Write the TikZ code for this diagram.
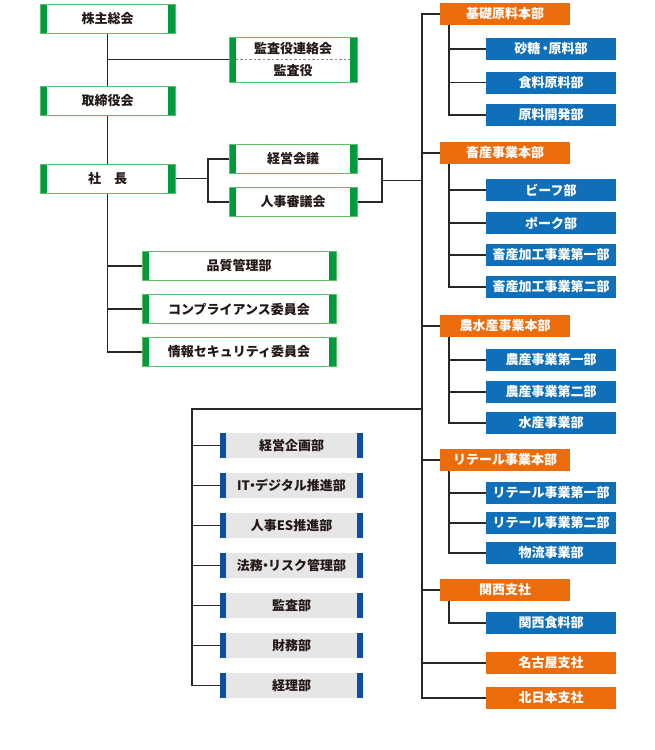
\documentclass[tikz,border=0pt]{standalone}
\usepackage{fontspec}
\setmainfont{Noto Sans CJK JP}
\definecolor{lc}{HTML}{2B2523}
\definecolor{gborder}{HTML}{5CBF6A}
\definecolor{gbar}{HTML}{009A3E}
\definecolor{org}{HTML}{EC6C0B}
\definecolor{blu}{HTML}{0F6FB8}
\definecolor{gfill}{HTML}{E6E6E6}
\definecolor{gbarb}{HTML}{0D4EA0}
\definecolor{tx}{HTML}{231815}
\newcommand{\nd}{\kern-0.3em・\kern-0.3em}
\tikzset{
  ln/.style={draw=lc, line width=1.4pt},
  txt/.style={font=\fontsize{13}{15}\selectfont\bfseries},
  gbox/.style={txt, text=tx, draw=gborder, line width=1pt, fill=white, inner sep=0pt,
    minimum height=29pt,
    path picture={\fill[gbar] (path picture bounding box.south west) rectangle ([xshift=7pt]path picture bounding box.north west);
                  \fill[gbar] (path picture bounding box.south east) rectangle ([xshift=-7pt]path picture bounding box.north east);}},
  obox/.style={txt, text=white, fill=org, inner sep=0pt, minimum width=130pt, minimum height=22pt},
  bbox/.style={txt, text=white, fill=blu, inner sep=0pt, minimum width=130pt, minimum height=22pt},
  gray/.style={txt, text=tx, fill=gfill, inner sep=0pt, minimum width=143pt, minimum height=25pt,
    path picture={\fill[gbarb] (path picture bounding box.south west) rectangle ([xshift=6pt]path picture bounding box.north west);
                  \fill[gbarb] (path picture bounding box.south east) rectangle ([xshift=-6pt]path picture bounding box.north east);}},
}
\begin{document}
\begin{tikzpicture}[x=1pt,y=-1pt]
\useasboundingbox (0,0) rectangle (655,750);
% green column
\node[gbox, minimum width=135pt] (kabu) at (107.5,18.5) {株主総会};
\node[gbox, minimum width=135pt] (tori) at (107.5,101) {取締役会};
\node[gbox, minimum width=135pt] (shacho) at (107.5,178.5) {社\hspace{1em}長};
\node[gbox, minimum width=128pt, minimum height=45pt] (kansa) at (293,59.5) {};
\node[txt, text=tx, inner sep=0pt] (kansaA) at (293,48.5) {監査役連絡会};
\node[txt, text=tx, inner sep=0pt] (kansaB) at (293,71) {監査役};
\draw[black!45, dash pattern=on 2.5pt off 2pt, line width=0.6pt] ([xshift=7pt]kansa.west) -- ([xshift=-7pt]kansa.east);
\node[gbox, minimum width=128pt] (keiei) at (293,159) {経営会議};
\node[gbox, minimum width=128pt] (jinji) at (293,202) {人事審議会};
\node[gbox, minimum width=194pt] (hin) at (239,266) {品質管理部};
\node[gbox, minimum width=194pt] (comp) at (239,309) {コンプライアンス委員会};
\node[gbox, minimum width=194pt] (info) at (239,352) {情報セキュリティ委員会};
% left connectors
\draw[ln] (kabu.south) -- (tori.north);
\draw[ln] (tori.south) -- (shacho.north);
\draw[ln] (shacho.south) |- (info.west);
\draw[ln] (hin.west) -- (hin.west -| shacho.south);
\draw[ln] (comp.west) -- (comp.west -| shacho.south);
\draw[ln] (kansa.west) -- (kansa.west -| kabu.south);
\coordinate (b1) at (208,180.5);
\coordinate (b2) at (382,180.5);
\coordinate (sp) at (422,0);
\coordinate (sub) at (449,0);
\draw[ln] (shacho.east) -- (shacho.east -| b1);
\draw[ln] (keiei.west) -| (b1) |- (jinji.west);
\draw[ln] (keiei.east) -| (b2) |- (jinji.east);
\draw[ln] (b2) -- (b2 -| sp);
% right column
\node[obox] (kiso) at (505,14) {基礎原料本部};
\node[bbox] (sato) at (551,49) {砂糖\kern-0.1em・\kern-0.25em原料部};
\node[bbox] (shoku) at (551,82.5) {食料原料部};
\node[bbox] (genkai) at (551,115) {原料開発部};
\node[obox] (chiku) at (505,153) {畜産事業本部};
\node[bbox] (beef) at (551,190) {ビーフ部};
\node[bbox] (pork) at (551,223) {ポーク部};
\node[bbox] (ck1) at (551,255) {畜産加工事業第一部};
\node[bbox] (ck2) at (551,287) {畜産加工事業第二部};
\node[obox] (nosui) at (505,326) {農水産事業本部};
\node[bbox] (no1) at (551,360) {農産事業第一部};
\node[bbox] (no2) at (551,392) {農産事業第二部};
\node[bbox] (sui) at (551,423) {水産事業部};
\node[obox] (ret) at (505,460) {リテール事業本部};
\node[bbox] (ret1) at (551,493) {リテール事業第一部};
\node[bbox] (ret2) at (551,523) {リテール事業第二部};
\node[bbox] (buturyu) at (551,553) {物流事業部};
\node[obox] (kansai) at (505,590) {関西支社};
\node[bbox] (kshoku) at (551,623) {関西食料部};
\node[obox] (nagoya) at (551,663) {名古屋支社};
\node[obox] (kita) at (551,698) {北日本支社};
% right connectors
\draw[ln] (kiso.west) -- (kiso.west -| sp) |- (kita.west);
\foreach \n in {chiku,nosui,ret,kansai,nagoya} \draw[ln] (\n.west) -- (\n.west -| sp);
\draw[ln] (kiso.south -| sub) |- (genkai.west);
\foreach \n in {sato,shoku} \draw[ln] (\n.west) -- (\n.west -| sub);
\draw[ln] (chiku.south -| sub) |- (ck2.west);
\foreach \n in {beef,pork,ck1} \draw[ln] (\n.west) -- (\n.west -| sub);
\draw[ln] (nosui.south -| sub) |- (sui.west);
\foreach \n in {no1,no2} \draw[ln] (\n.west) -- (\n.west -| sub);
\draw[ln] (ret.south -| sub) |- (buturyu.west);
\foreach \n in {ret1,ret2} \draw[ln] (\n.west) -- (\n.west -| sub);
\draw[ln] (kansai.south -| sub) |- (kshoku.west);
% gray block
\node[gray] (kikaku) at (291.5,445.5) {経営企画部};
\node[gray] (it) at (291.5,485.5) {IT\nd デジタル推進部};
\node[gray] (jes) at (291.5,525.5) {人事ES推進部};
\node[gray] (homu) at (291.5,565.5) {法務\nd リスク管理部};
\node[gray] (kansabu) at (291.5,605.5) {監査部};
\node[gray] (zaimu) at (291.5,645.5) {財務部};
\node[gray] (keiri) at (291.5,685.5) {経理部};
\coordinate (gp) at (192,409);
\draw[ln] (gp -| sp) -- (gp) |- (keiri.west);
\foreach \n in {kikaku,it,jes,homu,kansabu,zaimu} \draw[ln] (\n.west) -- (\n.west -| gp);
\end{tikzpicture}
\end{document}
